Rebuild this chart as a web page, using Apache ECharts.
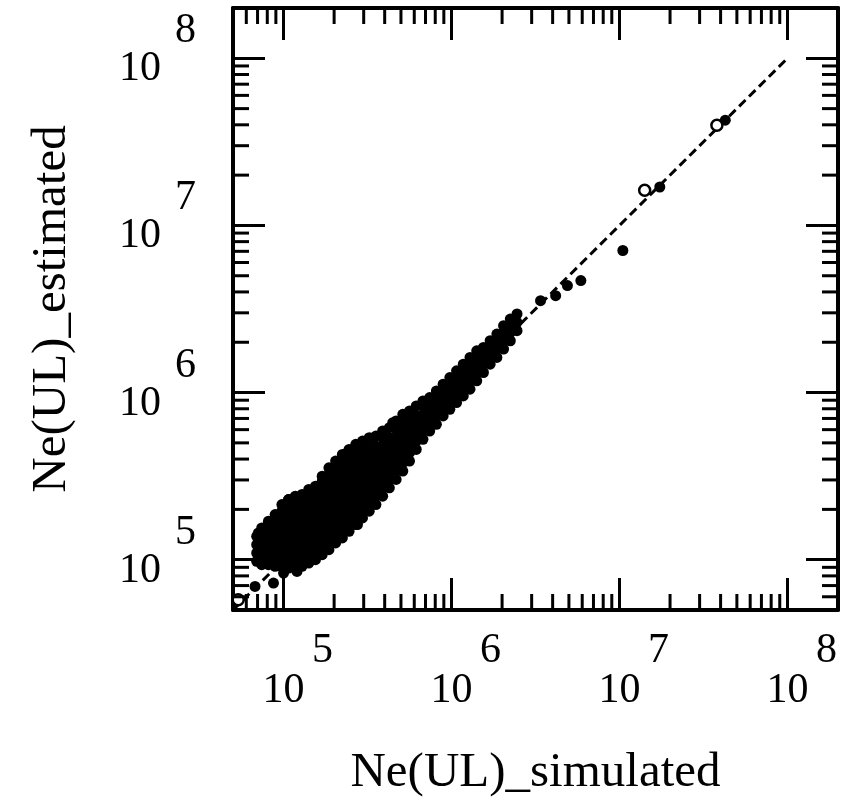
<!DOCTYPE html>
<html>
<head>
<meta charset="utf-8">
<title>Ne(UL) estimated vs simulated</title>
<script src="https://cdn.jsdelivr.net/npm/echarts@6.0.0/dist/echarts.min.js"></script>
<style>
  html, body { margin: 0; padding: 0; background: #fff; }
  #chart { width: 842px; height: 807px; }
</style>
</head>
<body>
<div id="chart"></div>
<script>
  // axis range (both axes)
  const axisMin = 5e4;
  const axisMax = 2e8;
  const decades = [4, 5, 6, 7, 8];
  const minorSteps = [2, 3, 4, 5, 6, 7, 8, 9];

  // 1:1 reference line
  const diagLine = [[5e4, 5e4], [1e8, 1e8]];

  // dense cloud, read as log10 values: [log10 simulated, [log10 estimated, ...]]
  const cloudLog = [
    [4.84, [4.99, 5.04, 5.09, 5.14]],
    [4.87, [4.97, 5.02, 5.07, 5.12, 5.17, 5.19]],
    [4.91, [4.97, 5.01, 5.06, 5.11, 5.16, 5.20, 5.23]],
    [4.95, [4.96, 5.01, 5.06, 5.11, 5.16, 5.21, 5.27]],
    [4.99, [4.96, 5.00, 5.05, 5.10, 5.15, 5.20, 5.25, 5.29, 5.33]],
    [5.03, [4.95, 5.00, 5.05, 5.10, 5.15, 5.20, 5.25, 5.30, 5.36]],
    [5.07, [4.95, 5.00, 5.05, 5.10, 5.15, 5.20, 5.25, 5.30, 5.34, 5.38]],
    [5.11, [4.96, 5.01, 5.06, 5.11, 5.16, 5.21, 5.26, 5.31, 5.35, 5.39]],
    [5.15, [4.98, 5.03, 5.08, 5.13, 5.18, 5.23, 5.28, 5.33, 5.38, 5.42]],
    [5.19, [5.00, 5.05, 5.10, 5.15, 5.20, 5.25, 5.30, 5.35, 5.40, 5.44]],
    [5.23, [5.03, 5.08, 5.13, 5.18, 5.23, 5.28, 5.33, 5.38, 5.43, 5.47, 5.50]],
    [5.27, [5.06, 5.11, 5.16, 5.21, 5.26, 5.31, 5.36, 5.41, 5.46, 5.51, 5.55]],
    [5.31, [5.10, 5.15, 5.20, 5.25, 5.30, 5.35, 5.40, 5.45, 5.50, 5.55, 5.59]],
    [5.35, [5.13, 5.18, 5.23, 5.28, 5.33, 5.38, 5.43, 5.48, 5.53, 5.58, 5.63]],
    [5.39, [5.17, 5.22, 5.27, 5.32, 5.37, 5.42, 5.47, 5.52, 5.57, 5.62, 5.66]],
    [5.43, [5.21, 5.26, 5.31, 5.36, 5.41, 5.46, 5.51, 5.56, 5.61, 5.66, 5.69]],
    [5.47, [5.25, 5.30, 5.35, 5.40, 5.45, 5.50, 5.55, 5.60, 5.65, 5.71]],
    [5.51, [5.29, 5.34, 5.39, 5.44, 5.49, 5.54, 5.59, 5.64, 5.69, 5.73]],
    [5.55, [5.33, 5.38, 5.43, 5.48, 5.53, 5.58, 5.63, 5.68, 5.74]],
    [5.59, [5.38, 5.43, 5.48, 5.53, 5.58, 5.63, 5.68, 5.73, 5.77]],
    [5.63, [5.43, 5.48, 5.53, 5.58, 5.63, 5.68, 5.73, 5.79]],
    [5.67, [5.48, 5.53, 5.58, 5.63, 5.68, 5.73, 5.78, 5.83]],
    [5.71, [5.53, 5.58, 5.63, 5.68, 5.73, 5.78, 5.83, 5.87]],
    [5.75, [5.59, 5.64, 5.69, 5.74, 5.79, 5.84, 5.89]],
    [5.79, [5.66, 5.71, 5.76, 5.81, 5.86, 5.92]],
    [5.83, [5.72, 5.77, 5.82, 5.87, 5.92, 5.95]],
    [5.87, [5.77, 5.82, 5.87, 5.92, 5.97]],
    [5.91, [5.81, 5.86, 5.91, 5.96, 6.01]],
    [5.95, [5.86, 5.91, 5.96, 6.01, 6.05]],
    [5.99, [5.90, 5.95, 6.00, 6.05, 6.09]],
    [6.03, [5.94, 5.99, 6.04, 6.09, 6.13]],
    [6.07, [5.98, 6.03, 6.08, 6.13, 6.17]],
    [6.11, [6.02, 6.07, 6.12, 6.17, 6.21]],
    [6.15, [6.07, 6.12, 6.17, 6.22, 6.25]],
    [6.19, [6.12, 6.17, 6.22, 6.27]],
    [6.23, [6.17, 6.22, 6.27, 6.31]],
    [6.27, [6.21, 6.26, 6.31, 6.35]],
    [6.31, [6.26, 6.31, 6.36, 6.40]],
    [6.35, [6.31, 6.36, 6.41, 6.44]],
    [6.39, [6.37, 6.42, 6.47]]
  ];

  // scattered filled points outside the cloud, log10 [simulated, estimated]
  const extraLog = [
    [4.83, 4.84], [4.94, 4.86], [5.00, 4.92], [5.08, 4.93],
    [4.85, 5.16], [4.91, 5.22], [4.97, 5.26], [5.03, 5.36],
    [5.19, 5.43], [5.38, 5.64], [5.65, 5.82], [5.44, 5.21], [5.62, 5.47],
    [6.53, 6.55], [6.62, 6.58], [6.69, 6.64], [6.77, 6.67], [7.02, 6.85],
    [7.24, 7.23], [7.63, 7.63]
  ];

  // open circles, log10 [simulated, estimated]
  const openLog = [[4.73, 4.76], [7.15, 7.21], [7.58, 7.60]];

  const pow10 = (e) => Math.pow(10, e);
  const filledPts = [];
  cloudLog.forEach(([u, vs]) => vs.forEach((v) => filledPts.push([pow10(u), pow10(v)])));
  extraLog.forEach(([u, v]) => filledPts.push([pow10(u), pow10(v)]));
  const openPts = openLog.map(([u, v]) => [pow10(u), pow10(v)]);

  const minorVals = [];
  decades.forEach((d) => minorSteps.forEach((m) => {
    const v = m * pow10(d);
    if (v > axisMin && v < axisMax) minorVals.push(v);
  }));

  const FONT = 'Liberation Serif';
  const isPow = (v) => {
    const e = Math.log10(v);
    return Math.abs(e - Math.round(e)) < 1e-6 ? Math.round(e) : null;
  };

  const frameLine = { lineStyle: { color: '#000', width: 4 } };
  const majorTick = { inside: true, length: 32, lineStyle: { color: '#000', width: 3 } };

  // minor ticks drawn on both sides of the box from the axis scales
  function minorTicks(dir) {
    return {
      type: 'custom',
      silent: true,
      clip: false,
      z: 5,
      data: minorVals.map((v) => (dir === 'x' ? [v, axisMin] : [axisMin, v])),
      renderItem: function (params, api) {
        const v = api.value(dir === 'x' ? 0 : 1);
        const lo = api.coord(dir === 'x' ? [v, axisMin] : [axisMin, v]);
        const hi = api.coord(dir === 'x' ? [v, axisMax] : [axisMax, v]);
        const L = 16;
        const style = { stroke: '#000', lineWidth: 3 };
        if (dir === 'x') {
          return { type: 'group', children: [
            { type: 'line', shape: { x1: lo[0], y1: lo[1], x2: lo[0], y2: lo[1] - L }, style: style },
            { type: 'line', shape: { x1: hi[0], y1: hi[1], x2: hi[0], y2: hi[1] + L }, style: style }
          ] };
        }
        return { type: 'group', children: [
          { type: 'line', shape: { x1: lo[0], y1: lo[1], x2: lo[0] + L, y2: lo[1] }, style: style },
          { type: 'line', shape: { x1: hi[0], y1: hi[1], x2: hi[0] - L, y2: hi[1] }, style: style }
        ] };
      }
    };
  }

  const chart = echarts.init(document.getElementById('chart'), null, { renderer: 'canvas' });

  const option = {
    animation: false,
    backgroundColor: '#fff',
    grid: { left: 233, top: 8, width: 605, height: 602, containLabel: false, outerBoundsMode: 'none' },
    xAxis: [
      {
        type: 'log', logBase: 10, min: axisMin, max: axisMax, position: 'bottom',
        axisLine: frameLine, axisTick: majorTick, splitLine: { show: false },
        axisLabel: {
          showMinLabel: false, showMaxLabel: false, margin: 21,
          formatter: (v) => { const e = isPow(v); return e === null ? '' : '{e|' + e + '}\n{b|10}'; },
          rich: {
            e: { fontFamily: FONT, fontSize: 42, lineHeight: 40, color: '#000', padding: [0, 0, 0, 78] },
            b: { fontFamily: FONT, fontSize: 42, lineHeight: 40, color: '#000' }
          }
        },
        name: 'Ne(UL)_simulated', nameLocation: 'middle', nameGap: 139,
        nameTextStyle: { fontFamily: FONT, fontSize: 49, color: '#000' }
      },
      {
        type: 'log', logBase: 10, min: axisMin, max: axisMax, position: 'top',
        axisLine: frameLine, axisTick: majorTick, axisLabel: { show: false }, splitLine: { show: false }
      }
    ],
    yAxis: [
      {
        type: 'log', logBase: 10, min: axisMin, max: axisMax, position: 'left',
        axisLine: frameLine, axisTick: majorTick, splitLine: { show: false },
        axisLabel: {
          showMinLabel: false, showMaxLabel: false, margin: 37, padding: [0, 0, 16, 0],
          formatter: (v) => { const e = isPow(v); return e === null ? '' : '{e|' + e + '}\n{b|10}'; },
          rich: {
            e: { fontFamily: FONT, fontSize: 42, lineHeight: 38, color: '#000' },
            b: { fontFamily: FONT, fontSize: 42, lineHeight: 38, color: '#000', padding: [0, 35, 0, 0] }
          }
        },
        name: 'Ne(UL)_estimated', nameLocation: 'middle', nameGap: 156,
        nameTextStyle: { fontFamily: FONT, fontSize: 49, color: '#000' }
      },
      {
        type: 'log', logBase: 10, min: axisMin, max: axisMax, position: 'right',
        axisLine: frameLine, axisTick: majorTick, axisLabel: { show: false }, splitLine: { show: false }
      }
    ],
    series: [
      minorTicks('x'),
      minorTicks('y'),
      {
        type: 'line', data: diagLine, symbol: 'none', silent: true, z: 2,
        lineStyle: { color: '#000', width: 3, type: [9, 5], opacity: 1 }
      },
      {
        type: 'scatter', data: filledPts, symbol: 'circle', symbolSize: 11, z: 3,
        itemStyle: { color: '#000', opacity: 1 }
      },
      {
        type: 'scatter', data: openPts, symbol: 'circle', symbolSize: 11, z: 4,
        itemStyle: { color: '#fff', borderColor: '#000', borderWidth: 2.5, opacity: 1 }
      }
    ]
  };

  chart.setOption(option);
</script>
</body>
</html>
